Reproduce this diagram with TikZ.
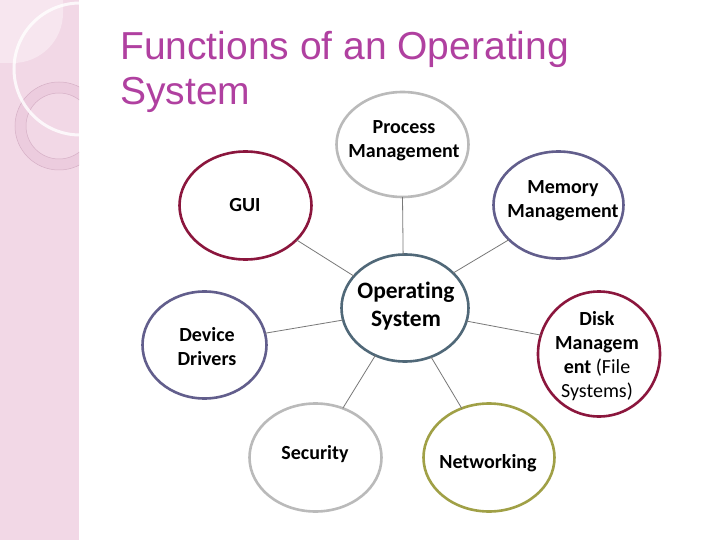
\documentclass[tikz,border=0pt]{standalone}
\usepackage{fontspec}
\setmainfont{Carlito}[Ligatures=NoCommon]
\newfontfamily\titlefont{Liberation Sans}
\usetikzlibrary{shapes.geometric}
\definecolor{titlec}{RGB}{176,64,160}
\definecolor{stripc}{RGB}{242,216,230}
\definecolor{stripl}{RGB}{247,230,239}
\definecolor{ringc}{RGB}{236,204,222}
\definecolor{ringl}{RGB}{214,176,198}
\definecolor{grayc}{RGB}{186,186,186}
\definecolor{crimc}{RGB}{139,22,61}
\definecolor{slatec}{RGB}{98,94,140}
\definecolor{osc}{RGB}{80,104,120}
\definecolor{olivec}{RGB}{160,160,70}
\definecolor{linec}{RGB}{120,120,120}
\tikzset{
  bub/.style={ellipse, draw, line width=2.6pt, inner sep=0pt, outer sep=0pt},
  lbl/.style={align=center, inner sep=0pt, font=\bfseries\fontsize{20}{24}\selectfont},
  oslbl/.style={align=center, inner sep=0pt, font=\bfseries\fontsize{23.5}{28}\selectfont},
  conn/.style={draw=linec, line width=0.8pt},
  ttl/.style={anchor=base west, inner sep=0pt, text=titlec, font=\titlefont\fontsize{39}{45}\selectfont}
}
\begin{document}
\begin{tikzpicture}[x=1pt,y=-1pt]
\useasboundingbox (0,0) rectangle (720,540);
\fill[white] (0,0) rectangle (720,540);
% decorative strip
\begin{scope}
  \clip (0,0) rectangle (79,540);
  \fill[stripc] (0,0) rectangle (79,540);
  \fill[stripl] (0,0) -- (63,0) -- (63,13) arc[start angle=0, end angle=-90, radius=50pt] -- (0,63) -- cycle;
  \fill[ringc, even odd rule] (59,126) circle[radius=44pt] (59,126) circle[radius=33pt];
  \draw[ringl, line width=0.5pt] (59,126) circle[radius=44pt] (59,126) circle[radius=33pt];
  \draw[white, opacity=0.8, line width=3pt] (80,69) circle[radius=66pt];
\end{scope}
% title
\node[ttl] (t1) at (120,60) {Functions of an Operating};
\node[ttl] (t2) at (120,105) {System};
% ellipses
\node[bub, draw=grayc, minimum width=132pt, minimum height=105pt] (proc) at (402.5,144.5) {};
\node[bub, draw=crimc, minimum width=132pt, minimum height=108pt] (gui) at (245.5,205.5) {};
\node[bub, draw=slatec, minimum width=130pt, minimum height=107pt] (mem) at (558.5,205) {};
\node[bub, draw=osc, minimum width=127pt, minimum height=107pt] (os) at (405,308) {};
\node[bub, draw=slatec, minimum width=124pt, minimum height=107pt] (dev) at (204.5,345) {};
\node[bub, draw=crimc, minimum width=122pt, minimum height=125pt] (disk) at (599,354) {};
\node[bub, draw=grayc, minimum width=132pt, minimum height=108pt] (sec) at (315.5,457.5) {};
\node[bub, draw=olivec, minimum width=131pt, minimum height=108pt] (net) at (489,457.5) {};
% labels
\node[lbl] (lproc) at (404,141) {Process\\Management};
\node[lbl] (lgui) at (245,205) {GUI};
\node[lbl] (lmem) at (563,201) {Memory\\Management};
\node[oslbl] (los) at (406,306) {Operating\\System};
\node[lbl] (ldev) at (207,347) {Device\\Drivers};
\node[lbl] (ldisk) at (597,356) {Disk\\Managem\\ent {\mdseries (File}\\{\mdseries Systems)}};
\node[lbl] (lsec) at (315,454) {Security};
\node[lbl] (lnet) at (488,463) {Networking};
% connectors
\draw[conn] (os.92) -- (proc.-90);
\draw[conn] (os.148) -- (gui.-34);
\draw[conn] (os.36) -- (mem.-145);
\draw[conn] (os.191) -- (dev.11);
\draw[conn] (os.-12) -- (disk.162);
\draw[conn] (os.-122) -- (sec.61);
\draw[conn] (os.-62) -- (net.119);
\end{tikzpicture}
\end{document}
